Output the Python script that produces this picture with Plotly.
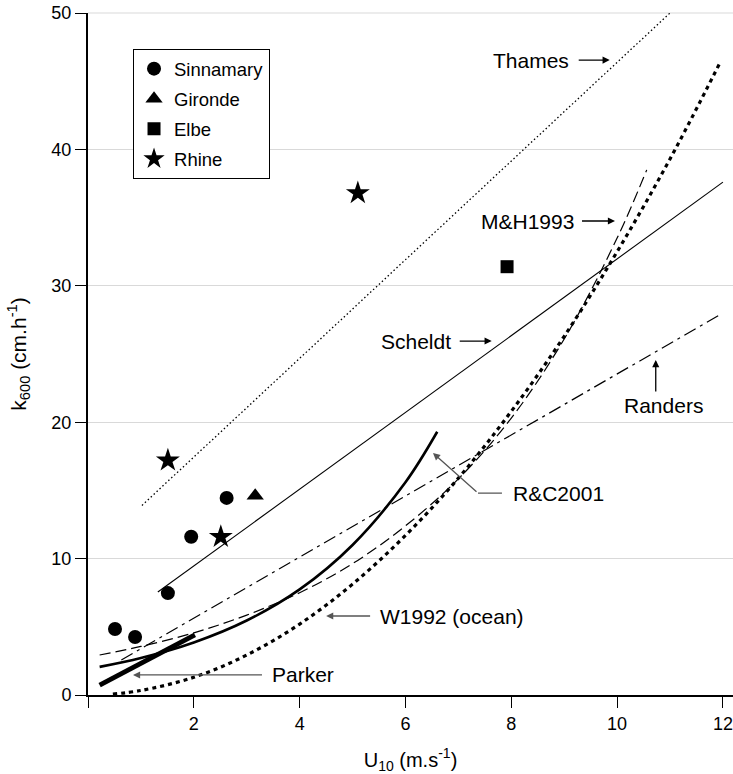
import plotly.graph_objects as go

# ---- data ----
sinnamary_u = [0.51, 0.89, 1.51, 1.95, 2.62]
sinnamary_k = [4.84, 4.25, 7.47, 11.6, 14.45]
gironde_u = [3.16]
gironde_k = [14.6]
elbe_u = [7.92]
elbe_k = [31.4]
rhine_u = [1.51, 2.51, 5.10]
rhine_k = [17.2, 11.6, 36.8]

thames_u = [1.02, 11.0]
thames_k = [13.9, 50.0]
scheldt_u = [1.32, 12.0]
scheldt_k = [7.55, 37.6]
randers_u = [0.63, 11.95]
randers_k = [2.57, 27.9]
parker_u = [0.22, 2.02]
parker_k = [0.73, 4.4]
mh_u = [0.22, 1, 2, 3, 4, 5, 6, 7, 8, 9, 10, 10.56]
mh_k = [2.93, 3.56, 4.56, 5.86, 7.5, 9.63, 12.4, 15.85, 20.3, 26.1, 33.5, 38.5]
rc_u = [0.22, 1, 2, 3, 4, 5, 6, 6.6]
rc_k = [2.06, 2.71, 3.85, 5.46, 7.74, 11.0, 15.6, 19.3]
w92_u = [0.47, 1, 2, 3, 4, 5, 6, 7, 8, 9, 10, 11, 11.95]
w92_k = [0.07, 0.33, 1.3, 2.93, 5.2, 8.13, 11.7, 15.9, 20.8, 26.3, 32.5, 39.3, 46.4]

x_ticks = [0, 2, 4, 6, 8, 10, 12]
x_ticktext = ["", "2", "4", "6", "8", "10", "12"]
y_ticks = [0, 10, 20, 30, 40, 50]

FONT = "Liberation Sans, Arial, sans-serif"
GRID = "#d9d9d9"

fig = go.Figure()

def line(u, k, width, dash, shape="linear"):
    fig.add_trace(go.Scatter(x=u, y=k, mode="lines", showlegend=False, hoverinfo="skip",
                             line=dict(color="black", width=width, dash=dash, shape=shape)))

line(thames_u, thames_k, 1.3, "1.5px,2.5px")
line(scheldt_u, scheldt_k, 1.1, "solid")
line(randers_u, randers_k, 1.2, "13px,5px,3px,5px")
line(mh_u, mh_k, 1.2, "11px,5px", "spline")
line(w92_u, w92_k, 3.2, "4px,4px", "spline")
line(rc_u, rc_k, 2.6, "solid", "spline")
line(parker_u, parker_k, 4.8, "solid")

def pts(u, k, name, symbol, size):
    fig.add_trace(go.Scatter(x=u, y=k, mode="markers", name=name, legendgroup=name,
                             marker=dict(symbol=symbol, size=size, color="black",
                                         line=dict(width=0))))

pts(sinnamary_u, sinnamary_k, "Sinnamary", "circle", 14)
pts(gironde_u, gironde_k, "Gironde", "triangle-up", 15)
pts(elbe_u, elbe_k, "Elbe", "square", 13)
pts(rhine_u, rhine_k, "Rhine", "star", 18)

# top gridline (upper edge of the plot area = top of the y range), drawn unclipped
fig.add_shape(type="line", xref="paper", yref="paper", x0=0, x1=1, y0=1, y1=1,
              line=dict(color=GRID, width=1.2), layer="below")

# ---- labels with arrows ----
TXT = dict(size=21, color="black", family=FONT)

def labelled_arrow(text, hx, hy, ax, ay, xanchor, gap, color, head=2):
    fig.add_annotation(x=hx, y=hy, ax=ax, ay=ay, text=text, showarrow=True,
                       xanchor=xanchor, yanchor="middle", font=TXT,
                       arrowhead=head, arrowsize=1.1, arrowwidth=1.3, arrowcolor=color,
                       standoff=0, startstandoff=gap)

def label(text, x, y):
    fig.add_annotation(x=x, y=y, text=text, showarrow=False, xanchor="center",
                       yanchor="middle", font=TXT)

def bare_arrow(x, y, ax, ay, color):
    fig.add_annotation(x=x, y=y, ax=ax, ay=ay, text="", showarrow=True, arrowhead=2,
                       arrowsize=1.1, arrowwidth=1.3, arrowcolor=color,
                       standoff=0, startstandoff=0)

labelled_arrow("Thames", 9.86, 46.55, -39, 0, "right", 8, "black")
labelled_arrow("M&amp;H1993", 9.96, 34.75, -39, 0, "right", 6, "black")
labelled_arrow("Scheldt", 7.63, 25.95, -39, 0, "right", 7, "black")
label("Randers", 10.88, 21.26)
bare_arrow(10.73, 24.56, 0, 33, "black")
labelled_arrow("R&amp;C2001", 7.37, 14.8, 33, 0, "left", 9, "#555555", head=0)
bare_arrow(6.52, 17.74, 45, 40, "#555555")
labelled_arrow("W1992 (ocean)", 4.5, 5.79, 52, 0, "left", 8, "#555555")
labelled_arrow("Parker", 0.85, 1.47, 137, 0, "left", 8, "#555555")

fig.update_layout(
    width=733, height=774,
    margin=dict(l=88, r=0, t=13, b=79),
    paper_bgcolor="white", plot_bgcolor="white",
    font=dict(family=FONT, size=18, color="black"),
    showlegend=True,
    legend=dict(x=0.0698, y=0.947, xanchor="left", yanchor="top",
                bgcolor="white", bordercolor="black", borderwidth=1,
                font=dict(size=18.5, family=FONT), tracegroupgap=3,
                itemwidth=30),
    xaxis=dict(range=[0, 12.19], tickvals=x_ticks, ticktext=x_ticktext, automargin=False,
               ticks="outside", ticklen=11, tickwidth=1.3, tickcolor="black",
               showline=True, linecolor="black", linewidth=2, showgrid=False, zeroline=False,
               tickfont=dict(size=18), ticklabeloverflow="allow",
               title=dict(text="U<sub>10</sub> (m.s<sup>-1</sup>)", font=dict(size=20), standoff=20)),
    yaxis=dict(range=[0, 50], tickvals=y_ticks, automargin=False,
               ticks="outside", ticklen=11, tickwidth=1.3, tickcolor="black",
               showline=True, linecolor="black", linewidth=2,
               showgrid=True, gridcolor=GRID, gridwidth=1, zeroline=False,
               tickfont=dict(size=18), ticklabeloverflow="allow",
               title=dict(text="k<sub>600</sub> (cm.h<sup>-1</sup>)", font=dict(size=21), standoff=19)),
)

# remove the browser's default 8px page margin so the figure fills the window exactly
fig.write_html("out.html", config={"displayModeBar": False},
               post_script="document.body.style.margin='0px';")
